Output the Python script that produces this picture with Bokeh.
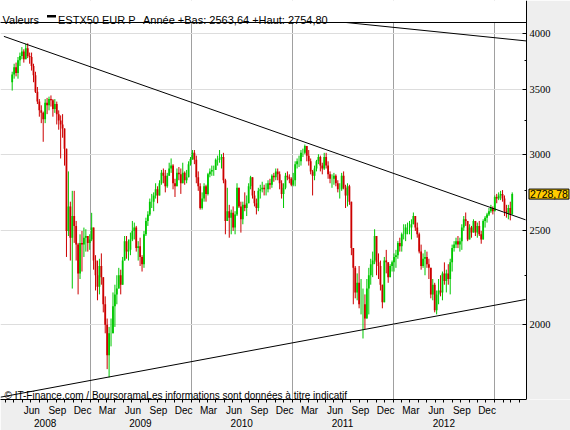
import numpy as np
import pandas as pd
from bokeh.plotting import figure
from bokeh.models import (FixedTicker, Label, LabelSet, BoxAnnotation, Range1d, ColumnDataSource,
                          LinearAxis)
from bokeh.embed import file_html
from bokeh.resources import INLINE

# ---------------- data (weekly OHLC) ----------------
first_week = "2008-03-24"
first_open = 3560

close_2008 = [3625, 3690, 3640, 3750, 3790, 3830, 3760, 3860, 3790, 3780, 3700, 3620, 3480, 3400, 3330, 3310, 3260, 3390, 3370, 3420,
              3410, 3340, 3380, 3300, 3250, 3220, 3190, 3040, 2500, 2650, 2460, 2590, 2530, 2420, 2260, 2430, 2420, 2460, 2470, 2430, 2450]
high_2008 = [3650, 3720, 3730, 3780, 3820, 3870, 3850, 3900, 3905, 3820, 3820, 3720, 3650, 3520, 3420, 3370, 3320, 3420, 3430, 3440,
             3450, 3420, 3420, 3400, 3330, 3290, 3300, 3180, 2960, 2880, 2680, 2750, 2750, 2560, 2430, 2480, 2500, 2520, 2510, 2470, 2480]
low_2008 = [3490, 3590, 3610, 3590, 3700, 3760, 3730, 3760, 3770, 3720, 3660, 3560, 3470, 3380, 3280, 3230, 3090, 3230, 3300, 3330,
            3360, 3280, 3310, 3220, 3180, 2970, 3120, 2920, 2350, 2470, 2330, 2180, 2430, 2330, 2150, 2230, 2270, 2350, 2380, 2380, 2390]

close_2009 = [2520, 2330, 2250, 2190, 2300, 2240, 2100, 2000, 1860, 1960, 1960, 2090, 2150, 2180, 2250, 2200, 2330, 2440, 2380, 2390,
              2450, 2500, 2520, 2400, 2410, 2350, 2310, 2480, 2560, 2600, 2680, 2680, 2720, 2760, 2720, 2800, 2870, 2850, 2780, 2850,
              2900, 2920, 2800, 2780, 2870, 2860, 2800, 2870, 2820, 2840, 2930, 2966]
high_2009 = [2610, 2500, 2360, 2330, 2340, 2370, 2230, 2140, 2030, 1990, 2030, 2160, 2200, 2250, 2290, 2280, 2350, 2470, 2470, 2450,
             2490, 2560, 2550, 2530, 2440, 2460, 2360, 2500, 2580, 2620, 2700, 2730, 2740, 2800, 2780, 2820, 2890, 2900, 2890, 2870,
             2940, 2970, 2930, 2830, 2900, 2910, 2900, 2940, 2880, 2890, 2950, 2980]
low_2009 = [2440, 2280, 2170, 2120, 2150, 2200, 2060, 1960, 1800, 1765, 1900, 1960, 1990, 2100, 2180, 2150, 2200, 2330, 2340, 2330,
            2360, 2440, 2450, 2380, 2330, 2300, 2270, 2290, 2470, 2530, 2590, 2640, 2620, 2700, 2670, 2720, 2790, 2800, 2740, 2770,
            2860, 2870, 2760, 2710, 2780, 2820, 2730, 2800, 2790, 2800, 2840, 2920]

close_2010 = [3010, 2960, 2840, 2780, 2640, 2700, 2780, 2730, 2860, 2880, 2890, 2890, 2960, 2960, 2970, 2980, 2820, 2560, 2620, 2580,
              2610, 2520, 2600, 2770, 2650, 2570, 2660, 2640, 2670, 2780, 2840, 2720, 2670, 2640, 2750, 2760, 2770, 2760, 2760, 2800,
              2790, 2850, 2840, 2880, 2860, 2800, 2730, 2770, 2850, 2840, 2830, 2790]
high_2010 = [3030, 3030, 2990, 2880, 2800, 2740, 2800, 2790, 2870, 2900, 2920, 2920, 2970, 2990, 3030, 3000, 3010, 2830, 2770, 2660,
             2630, 2650, 2620, 2800, 2770, 2680, 2680, 2740, 2720, 2800, 2850, 2830, 2750, 2700, 2770, 2790, 2810, 2790, 2800, 2820,
             2830, 2860, 2870, 2900, 2900, 2880, 2820, 2800, 2870, 2880, 2860, 2840]
low_2010 = [2960, 2930, 2800, 2750, 2630, 2630, 2680, 2680, 2720, 2840, 2850, 2850, 2900, 2920, 2940, 2900, 2800, 2480, 2580, 2460,
            2480, 2500, 2480, 2590, 2640, 2490, 2540, 2620, 2590, 2670, 2760, 2700, 2650, 2600, 2620, 2700, 2740, 2720, 2720, 2740,
            2760, 2770, 2810, 2820, 2820, 2760, 2700, 2640, 2760, 2820, 2800, 2780]

close_2011 = [2820, 2930, 2950, 2950, 3010, 3010, 3060, 2990, 2950, 2880, 2850, 2900, 2950, 2980, 2920, 2900, 2980, 2920, 2860, 2830,
              2830, 2850, 2800, 2760, 2760, 2850, 2770, 2720, 2780, 2680, 2400, 2290, 2160, 2210, 2100, 2100, 2100, 2030, 2180, 2250,
              2310, 2330, 2470, 2320, 2300, 2200, 2110, 2330, 2320, 2240, 2300, 2320]
high_2011 = [2870, 2950, 2970, 2990, 3030, 3040, 3070, 3060, 3030, 2970, 2890, 2920, 2960, 3000, 2990, 2940, 3010, 3010, 2950, 2880,
             2860, 2870, 2860, 2820, 2800, 2870, 2880, 2790, 2800, 2790, 2680, 2400, 2300, 2260, 2300, 2230, 2180, 2150, 2230, 2290,
             2340, 2380, 2510, 2450, 2370, 2330, 2200, 2350, 2390, 2320, 2310, 2330]
low_2011 = [2780, 2780, 2900, 2910, 2920, 2980, 3000, 2950, 2920, 2860, 2720, 2820, 2880, 2930, 2880, 2860, 2890, 2900, 2830, 2800,
            2770, 2790, 2780, 2740, 2700, 2750, 2760, 2640, 2650, 2660, 2360, 2100, 2130, 2120, 2080, 2050, 1936, 1980, 2040, 2050,
            2200, 2240, 2310, 2250, 2230, 2170, 2080, 2110, 2260, 2210, 2240, 2270]

close_2012 = [2350, 2360, 2430, 2410, 2480, 2480, 2520, 2520, 2520, 2540, 2590, 2520, 2480, 2380, 2300, 2340, 2350, 2310, 2290, 2150,
              2200, 2070, 2150, 2170, 2160, 2260, 2220, 2260, 2230, 2320, 2400, 2420, 2440, 2420, 2440, 2520, 2570, 2560, 2450, 2520,
              2490, 2560, 2490, 2530, 2480, 2450, 2560, 2580, 2600, 2620, 2640, 2620, 2710]
high_2012 = [2370, 2390, 2440, 2460, 2490, 2540, 2540, 2550, 2560, 2570, 2612, 2590, 2550, 2490, 2420, 2370, 2390, 2380, 2340, 2280,
             2230, 2210, 2170, 2230, 2250, 2270, 2320, 2280, 2310, 2340, 2420, 2440, 2460, 2470, 2460, 2540, 2590, 2612, 2560, 2540,
             2530, 2570, 2560, 2550, 2560, 2500, 2570, 2590, 2610, 2640, 2660, 2650, 2720]
low_2012 = [2270, 2290, 2340, 2380, 2380, 2450, 2440, 2480, 2480, 2450, 2540, 2500, 2460, 2370, 2280, 2290, 2250, 2290, 2230, 2130,
            2120, 2060, 2050, 2100, 2140, 2120, 2200, 2160, 2200, 2150, 2270, 2380, 2400, 2400, 2380, 2390, 2500, 2530, 2440, 2460,
            2460, 2490, 2470, 2460, 2470, 2425, 2460, 2520, 2550, 2590, 2610, 2600, 2620]

close_2013 = [2700, 2720, 2730, 2700, 2620, 2610, 2640, 2600, 2728.78]
high_2013 = [2730, 2740, 2750, 2754.8, 2720, 2660, 2660, 2680, 2740]
low_2013 = [2670, 2690, 2690, 2680, 2590, 2580, 2570, 2563.64, 2600]

# trend lines (date, price)
trend_down_dates = ["2008-02-25", "2013-04-23"]
trend_down_prices = [3970, 2567]
trend_top_dates = ["2011-07-08", "2013-04-26"]
trend_top_prices = [4105, 3927]
trend_up_dates = ["2008-02-13", "2013-04-23"]
trend_up_prices = [1684, 2124]

y_ticks = [2000, 2500, 3000, 3500, 4000]
y_tick_labels = ["2000", "2500", "3000", "3500", "4000"]
y_minor_ticks = [2250, 2750, 3250, 3750]
month_names = {3: "Mar", 6: "Jun", 9: "Sep", 12: "Dec"}
label_years = [2008, 2009, 2010, 2011, 2012]
last_price = 2728.78
last_price_text = "2728,78"
header_name = "Valeurs"
header_series = "ESTX50 EUR P"
header_stats = "Année +Bas: 2563,64 +Haut: 2754,80"
note_text = "© IT-Finance.com / BoursoramaLes informations sont données à titre indicatif"

# ---------------- layout helpers (pixel <-> data) ----------------
ORIGIN = pd.Timestamp("2009-01-01")
PX_JAN2009 = 89.5
PX_PER_DAY = 0.27687
ROW_4000 = 32.7
PX_PER_LN = 420.7
PLOT_RIGHT = 526      # where the price axis sits
CANVAS_W = 570
FRAME_H = 399


def day(ts):
    return float((pd.Timestamp(ts) - ORIGIN).days)


def col(c):
    return (c - PX_JAN2009) / PX_PER_DAY


def row(r):
    return 4000.0 * np.exp(-(r - ROW_4000) / PX_PER_LN)


x0, x1 = col(0), col(CANVAS_W)

closes = close_2008 + close_2009 + close_2010 + close_2011 + close_2012 + close_2013
highs = high_2008 + high_2009 + high_2010 + high_2011 + high_2012 + high_2013
lows = low_2008 + low_2009 + low_2010 + low_2011 + low_2012 + low_2013
n = len(closes)
weeks = pd.date_range(first_week, periods=n, freq="7D")
xs = [day(w) + 2 for w in weeks]
opens = [first_open] + closes[:-1]
his = [max(h, o, c) for h, o, c in zip(highs, opens, closes)]
los = [min(l, o, c) for l, o, c in zip(lows, opens, closes)]
GREEN, RED = "#00c800", "#cc0000"
colors = [GREEN if c >= o else RED for o, c in zip(opens, closes)]
src = ColumnDataSource(dict(x=xs, h=his, l=los,
                            top=[max(o, c) for o, c in zip(opens, closes)],
                            bottom=[min(o, c) for o, c in zip(opens, closes)],
                            color=colors))

p = figure(width=CANVAS_W, height=430, x_range=Range1d(x0, x1), y_range=Range1d(row(FRAME_H), row(0)),
           y_axis_type="log", y_axis_location="right", x_axis_location="below",
           toolbar_location=None, output_backend="svg",
           min_border_left=0, min_border_top=0, min_border_right=0, min_border_bottom=430 - FRAME_H,
           background_fill_color="white", border_fill_color="#eeeeee", outline_line_color=None)

FONT = "Liberation Sans"

# grids
p.xgrid[0].ticker = FixedTicker(ticks=[day(f"{y}-01-01") for y in range(2009, 2014)])
p.xgrid[0].grid_line_color = "#a0a0a0"
p.ygrid[0].ticker = FixedTicker(ticks=y_ticks)
p.ygrid[0].grid_line_color = "#dddddd"

# grey margin to the right of the price axis (drawn under the data)
p.add_layout(BoxAnnotation(left=col(PLOT_RIGHT), fill_color="#eeeeee", fill_alpha=1.0, line_alpha=0.0,
                           level="underlay"))

# price axis (log), fixed at the right edge of the chart area; its labels are set next to it
ya = p.yaxis[0]
ya.fixed_location = col(PLOT_RIGHT)
ya.ticker = FixedTicker(ticks=y_ticks, minor_ticks=y_minor_ticks)
ya.major_label_overrides = {t: "" for t in y_ticks}
ya.major_tick_in = 4
ya.major_tick_out = 0
ya.minor_tick_in = 2
ya.minor_tick_out = 0
ya.major_label_standoff = 0
ya.axis_line_color = "black"
ya.major_tick_line_color = "black"
ya.minor_tick_line_color = "black"
p.add_layout(LabelSet(x="x", y="y", text="text",
                      source=ColumnDataSource(dict(x=[col(PLOT_RIGHT + 3)] * len(y_ticks), y=y_ticks,
                                                   text=y_tick_labels)),
                      text_font=FONT, text_font_size="10.5px", text_color="black",
                      text_align="left", text_baseline="middle"))

# bottom axis (months)
month_ticks = []
for y in range(2008, 2014):
    for m in range(1, 13):
        d = day(f"{y}-{m:02d}-01")
        if x0 <= d <= col(PLOT_RIGHT):
            month_ticks.append(d)
label_ticks = []
overrides = {}
for y in range(2008, 2013):
    for m, name in month_names.items():
        if (y, m) < (2008, 6):
            continue
        t = int(day(f"{y}-{m:02d}-01") + 4)
        label_ticks.append(t)
        overrides[t] = name
xa = p.xaxis[0]
xa.bounds = (x0, col(PLOT_RIGHT))
xa.ticker = FixedTicker(ticks=label_ticks, minor_ticks=month_ticks)
xa.major_label_overrides = overrides
xa.major_tick_line_color = None
xa.major_tick_in = 0
xa.major_tick_out = 0
xa.minor_tick_in = 0
xa.minor_tick_out = 3
xa.minor_tick_line_color = "black"
xa.axis_line_color = "black"
xa.major_label_standoff = 2
xa.major_label_text_font = FONT
xa.major_label_text_font_size = "10px"
xa.major_label_text_color = "black"

# second bottom axis (years, centred on the visible part of each year)
year_ticks = []
year_over = {}
for y in label_years:
    a = max(day(f"{y}-01-01"), x0)
    b = day(f"{y + 1}-01-01")
    t = int(round((a + b) / 2))
    year_ticks.append(t)
    year_over[t] = str(y)
xa2 = LinearAxis(ticker=FixedTicker(ticks=year_ticks, minor_ticks=[]), major_label_overrides=year_over,
                 axis_line_color=None, major_tick_line_color=None, minor_tick_line_color=None,
                 major_tick_in=0, major_tick_out=0, minor_tick_in=0, minor_tick_out=0,
                 major_label_standoff=0, major_label_text_font=FONT, major_label_text_font_size="10px",
                 major_label_text_color="black")
p.add_layout(xa2, "below")

# bars
p.segment(x0="x", y0="l", x1="x", y1="h", line_color="color", line_width=1, source=src)
p.vbar(x="x", width=6.5, top="top", bottom="bottom", fill_color="color", line_color=None, source=src)

# trend lines
for ds, ps in ((trend_down_dates, trend_down_prices), (trend_top_dates, trend_top_prices),
               (trend_up_dates, trend_up_prices)):
    p.line([day(d) for d in ds], ps, line_color="black", line_width=1)

# header band
p.add_layout(BoxAnnotation(bottom=row(22), right=col(PLOT_RIGHT - 0.5), fill_color="white", fill_alpha=1.0,
                           line_alpha=0.0, level="annotation"))
p.line([x0, col(PLOT_RIGHT)], [row(22), row(22)], line_color="black", line_width=1, level="overlay")
p.add_layout(BoxAnnotation(left=col(46.5), right=col(55.5), top=row(14.5), bottom=row(17),
                           fill_color="black", fill_alpha=1.0, line_alpha=0.0))


def lab(x, y, text, size="11px", align="left", baseline="alphabetic", **kw):
    p.add_layout(Label(x=x, y=y, text=text, text_font=FONT, text_font_size=size, text_color="black",
                       text_align=align, text_baseline=baseline, **kw))


lab(col(2), row(19), header_name)
lab(col(57.5), row(19), header_series)
lab(col(142.5), row(19), header_stats)
lab(col(4), row(394.5), note_text, size="10px")

# last price box next to the price axis
lab(col(PLOT_RIGHT + 2.5), last_price, last_price_text, size="10.5px", baseline="middle",
    background_fill_color="#ffcc00", background_fill_alpha=1.0, border_line_color="black", padding=1)

open("out.html", "w").write(file_html(p, INLINE))
